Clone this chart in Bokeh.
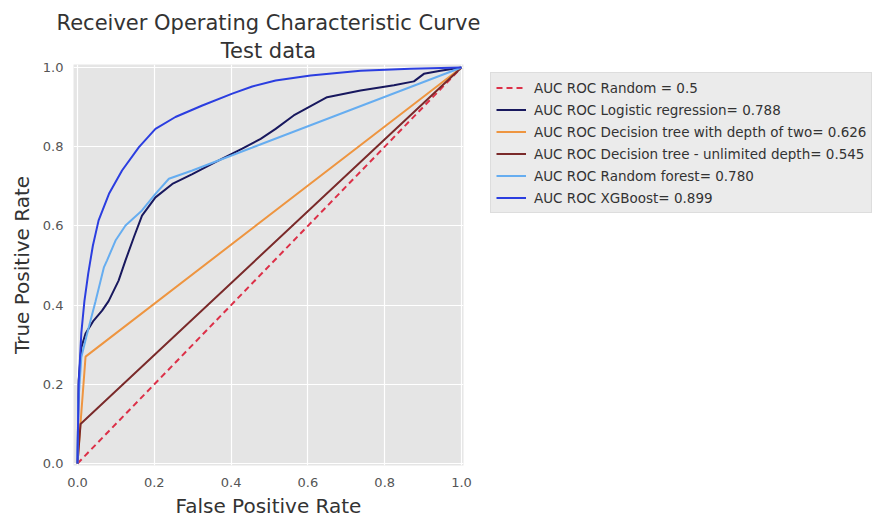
from bokeh.plotting import figure
from bokeh.models import (Range1d, FixedTicker, Legend, LegendItem, Title, ColumnDataSource,
                          PrintfTickFormatter)
from bokeh.embed import file_html
from bokeh.resources import INLINE

# ---- data ----
tick_values = [0.0, 0.2, 0.4, 0.6, 0.8, 1.0]

random_fpr = [0.0, 1.0]
random_tpr = [0.0, 1.0]

logreg_fpr = [0.0, 0.003, 0.01, 0.021, 0.042, 0.064, 0.081, 0.107, 0.125, 0.147, 0.168, 0.203,
              0.247, 0.299, 0.359, 0.429, 0.477, 0.516, 0.563, 0.65, 0.737, 0.824, 0.876,
              0.902, 0.945, 1.0]
logreg_tpr = [0.0, 0.21, 0.293, 0.328, 0.361, 0.386, 0.41, 0.462, 0.513, 0.572, 0.626, 0.672,
              0.706, 0.731, 0.761, 0.795, 0.82, 0.845, 0.879, 0.925, 0.942, 0.955, 0.965,
              0.984, 0.992, 1.0]

tree2_fpr = [0.0, 0.021, 1.0]
tree2_tpr = [0.0, 0.27, 1.0]

treeu_fpr = [0.0, 0.008, 1.0]
treeu_tpr = [0.0, 0.1, 1.0]

rf_fpr = [0.0, 0.002, 0.01, 0.025, 0.047, 0.069, 0.077, 0.099, 0.125, 0.168, 0.203, 0.238,
          0.299, 1.0]
rf_tpr = [0.0, 0.15, 0.268, 0.328, 0.41, 0.496, 0.513, 0.563, 0.601, 0.639, 0.681, 0.719,
          0.74, 1.0]

xgb_fpr = [0.0, 0.003, 0.01, 0.018, 0.028, 0.04, 0.055, 0.082, 0.116, 0.16, 0.203, 0.255,
           0.325, 0.403, 0.455, 0.516, 0.607, 0.737, 0.867, 1.0]
xgb_tpr = [0.0, 0.2, 0.33, 0.41, 0.48, 0.55, 0.614, 0.681, 0.74, 0.799, 0.845, 0.875,
           0.904, 0.934, 0.952, 0.967, 0.98, 0.992, 0.997, 1.0]

labels = [
    "AUC ROC Random = 0.5",
    "AUC ROC Logistic regression= 0.788",
    "AUC ROC Decision tree with depth of two= 0.626",
    "AUC ROC Decision tree - unlimited depth= 0.545",
    "AUC ROC Random forest= 0.780",
    "AUC ROC XGBoost= 0.899",
]

FONT = "DejaVu Sans"

p = figure(frame_width=390, frame_height=401, output_backend="svg", toolbar_location=None,
           x_range=Range1d(-0.0104, 1.0052), y_range=Range1d(-0.005, 1.0076),
           min_border_left=73, min_border_right=410, min_border_top=64, min_border_bottom=56,
           background_fill_color="#e5e5e5", border_fill_color="white", outline_line_color=None)

p.add_layout(Title(text="Test data", align="center", text_font=FONT, text_font_size="21px",
                   text_font_style="normal", text_color="#333333", standoff=4), "above")
p.add_layout(Title(text="Receiver Operating Characteristic Curve", align="center", text_font=FONT,
                   text_font_size="21px", text_font_style="normal", text_color="#333333",
                   standoff=0), "above")

for ax in (p.xaxis[0], p.yaxis[0]):
    ax.ticker = FixedTicker(ticks=tick_values)
    ax.formatter = PrintfTickFormatter(format="%.1f")
    ax.axis_line_color = None
    ax.major_tick_line_color = None
    ax.minor_tick_line_color = None
    ax.major_tick_out = 0
    ax.major_tick_in = 0
    ax.major_label_text_font = FONT
    ax.major_label_text_font_size = "13px"
    ax.major_label_text_color = "#555555"
    ax.axis_label_text_font = FONT
    ax.axis_label_text_font_size = "20px"
    ax.axis_label_text_font_style = "normal"
    ax.axis_label_text_color = "#333333"

p.xaxis.axis_label = "False Positive Rate"
p.yaxis.axis_label = "True Positive Rate"
p.xaxis.major_label_standoff = 12
p.xaxis.axis_label_standoff = 4
p.yaxis.major_label_standoff = 10
p.yaxis.axis_label_standoff = 6

p.xgrid.grid_line_color = "white"
p.ygrid.grid_line_color = "white"
p.xgrid.grid_line_width = 1.2
p.ygrid.grid_line_width = 1.2

series = [
    (random_fpr, random_tpr, "#dc3048", "6 4"),
    (logreg_fpr, logreg_tpr, "#18185e", "solid"),
    (tree2_fpr, tree2_tpr, "#ee9540", "solid"),
    (treeu_fpr, treeu_tpr, "#7a2a2a", "solid"),
    (rf_fpr, rf_tpr, "#66adf0", "solid"),
    (xgb_fpr, xgb_tpr, "#2b3ee0", "solid"),
]

items = []
for (xs, ys, col, dash), lab in zip(series, labels):
    src = ColumnDataSource(dict(x=xs, y=ys))
    r = p.line("x", "y", source=src, line_color=col, line_width=2, line_dash=dash)
    items.append(LegendItem(label=lab, renderers=[r]))

legend = Legend(items=items, location=(27, 252), orientation="vertical",
                label_text_font=FONT, label_text_font_size="13.5px", label_text_color="#333333",
                label_height=19, glyph_height=19, glyph_width=30, label_standoff=8,
                spacing=3, padding=5, margin=0,
                background_fill_color="#ebebeb", background_fill_alpha=1.0,
                border_line_color="#d0d0d0", border_line_width=1)
p.add_layout(legend, "right")

open("out.html", "w").write(file_html(p, INLINE))
